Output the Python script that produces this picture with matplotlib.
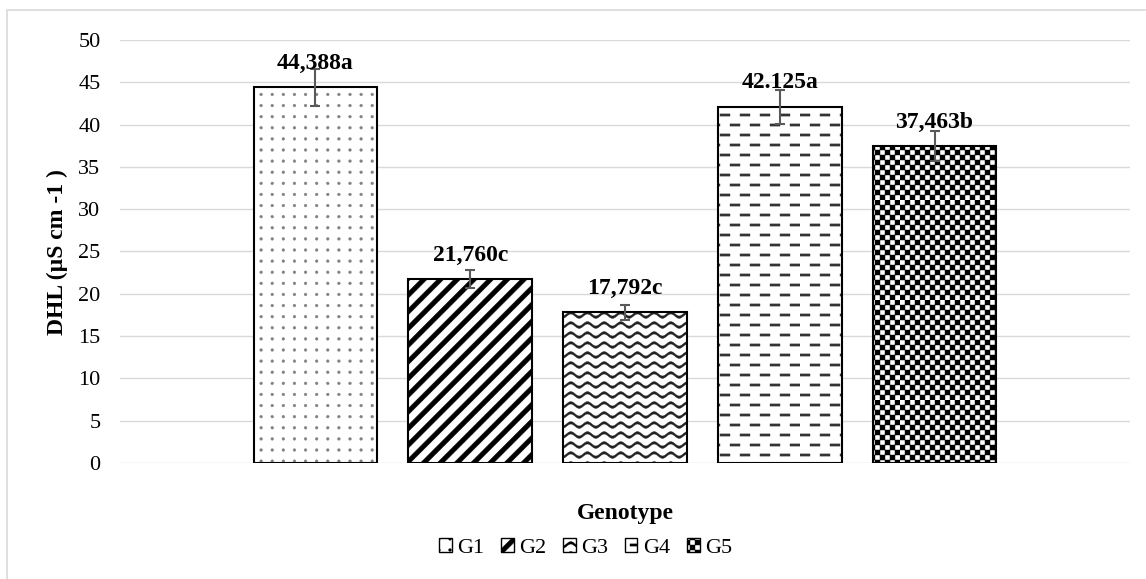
import warnings
import numpy as np
import matplotlib
matplotlib.use("Agg")
import matplotlib.pyplot as plt
import matplotlib.hatch as mhatch
from matplotlib.patches import Patch, Rectangle
from matplotlib.path import Path

warnings.filterwarnings("ignore")

# data
genotypes = ["G1", "G2", "G3", "G4", "G5"]
dhl = [44.388, 21.760, 17.792, 42.125, 37.463]
dhl_err = [2.2, 1.05, 0.85, 2.0, 1.8]
dhl_labels = ["44,388a", "21,760c", "17,792c", "42.125a", "37,463b"]
y_ticks = [0, 5, 10, 15, 20, 25, 30, 35, 40, 45, 50]


# --- custom fill patterns (Excel style), built as filled shapes in the unit hatch cell ---
def circle(cx, cy, r, n=10):
    t = np.linspace(0, 2 * np.pi, n, endpoint=False)
    return list(zip(cx + r * np.cos(t), cy + r * np.sin(t)))


def dots():
    polys = []
    n = 9
    for i in range(n):
        for j in range(n):
            polys.append(circle((j + 0.5) / n, (i + 0.5) / n, 0.014))
    return polys


def stripes():
    polys = []
    p, w = 1 / 6, 0.065
    for k in range(-7, 8):
        c = k * p
        polys.append([(c, 0), (c + w, 0), (c + w + 1, 1), (c + 1, 1)])
    return polys


def waves():
    polys = []
    rows, per, amp, th = 10, 6, 0.022, 0.024
    xs = np.linspace(0, 1, per * 16 + 1)
    for i in range(rows):
        y0 = (i + 0.5) / rows
        ys = y0 + amp * np.sin(2 * np.pi * per * xs)
        top = list(zip(xs, ys + th / 2))
        bot = list(zip(xs[::-1], ys[::-1] - th / 2))
        polys.append(top + bot)
    return polys


def dashes():
    polys = []
    rows, per, ln, th = 10, 5, 0.1, 0.022
    for i in range(rows):
        y0 = (i + 0.5) / rows
        for j in range(per):
            x0 = j / per + (i % 2) * 0.1
            polys.append([(x0, y0 - th / 2), (x0 + ln, y0 - th / 2),
                          (x0 + ln, y0 + th / 2), (x0, y0 + th / 2)])
    return polys


def checker():
    polys = []
    n, s = 20, 1 / 20
    for i in range(n):
        for j in range(n):
            if (i + j) % 2 == 0:
                polys.append([(j * s, i * s), ((j + 1) * s, i * s),
                              ((j + 1) * s, (i + 1) * s), (j * s, (i + 1) * s)])
    return polys


PATTERNS = {"a": dots, "b": stripes, "c": waves, "d": dashes, "e": checker}


class ExcelHatch(mhatch.HatchPatternBase):
    def __init__(self, hatch, density):
        polys = []
        for ch, fn in PATTERNS.items():
            if ch in hatch:
                polys += fn()
        verts, codes = [], []
        for poly in polys:
            verts += list(poly) + [poly[0]]
            codes += [Path.MOVETO] + [Path.LINETO] * (len(poly) - 1) + [Path.CLOSEPOLY]
        self.verts = np.array(verts, dtype=float).reshape(-1, 2)
        self.codes = np.array(codes, dtype=Path.code_type)
        self.num_vertices = len(self.verts)

    def set_vertices_and_codes(self, vertices, codes):
        vertices[:] = self.verts
        codes[:] = self.codes


mhatch._hatch_types.append(ExcelHatch)
mhatch._validate_hatch_pattern = lambda h: None

hatches = ["a", "b", "c", "d", "e"]
hatch_colors = ["#808080", "black", "#222222", "#333333", "black"]

plt.rcParams["font.family"] = ["Liberation Serif", "DejaVu Serif"]
plt.rcParams["hatch.linewidth"] = 0.3

fig = plt.figure(figsize=(11.46, 5.79), dpi=100)
ax = fig.add_axes([120 / 1146, 1 - 463 / 579, 1010 / 1146, 423 / 579])

x = np.arange(len(genotypes))
for i in range(len(genotypes)):
    b = ax.bar(x[i], dhl[i], width=0.8, color="white", edgecolor=hatch_colors[i],
               linewidth=0, hatch=hatches[i], zorder=2)
    for p in b:
        if hasattr(p, "set_hatch_linewidth"):
            p.set_hatch_linewidth(0.3)
ax.bar(x, dhl, width=0.8, fill=False, edgecolor="black", linewidth=1.5, zorder=3)

ax.errorbar(x, dhl, yerr=dhl_err, fmt="none", ecolor="#595959", elinewidth=1.5,
            capsize=3.6, capthick=1.5, zorder=4)

for i in range(len(genotypes)):
    ax.text(x[i], dhl[i] + 2.8, dhl_labels[i], ha="center", va="center",
            fontsize=17, fontweight="bold", zorder=5)

ax.set_xlim(-1.263, 5.263)
ax.set_ylim(0, 50)
ax.set_yticks(y_ticks)
ax.set_xticks([])
ax.tick_params(axis="y", length=0, pad=14, labelsize=16)
ax.yaxis.grid(True, color="#d9d9d9", linewidth=1.0, zorder=0)
ax.set_axisbelow(True)
for s in ax.spines.values():
    s.set_visible(False)

fig.text(57 / 1146, 0.565, "DHL (µS cm -1 )", rotation=90, ha="center", va="center",
         fontsize=17, fontweight="bold")
fig.text(625 / 1146, 1 - 513 / 579, "Genotype", ha="center", va="center",
         fontsize=17, fontweight="bold")

handles = [Patch(facecolor="white", edgecolor="black", linewidth=1.0, hatch=h) for h in hatches]
fig.legend(handles, genotypes, loc="center", bbox_to_anchor=(586 / 1146, 1 - 548 / 579),
           ncol=5, frameon=False, fontsize=16, handlelength=0.55, handleheight=0.55,
           handletextpad=0.27, columnspacing=0.75, borderpad=0)

# light chart-area border
fig.patches.append(Rectangle((7 / 1146, -0.1), 1.2, 1 - 10 / 579 + 0.1, transform=fig.transFigure,
                             fill=False, edgecolor="#d9d9d9", linewidth=1.2, clip_on=False))

fig.savefig("out.png", dpi=100)
